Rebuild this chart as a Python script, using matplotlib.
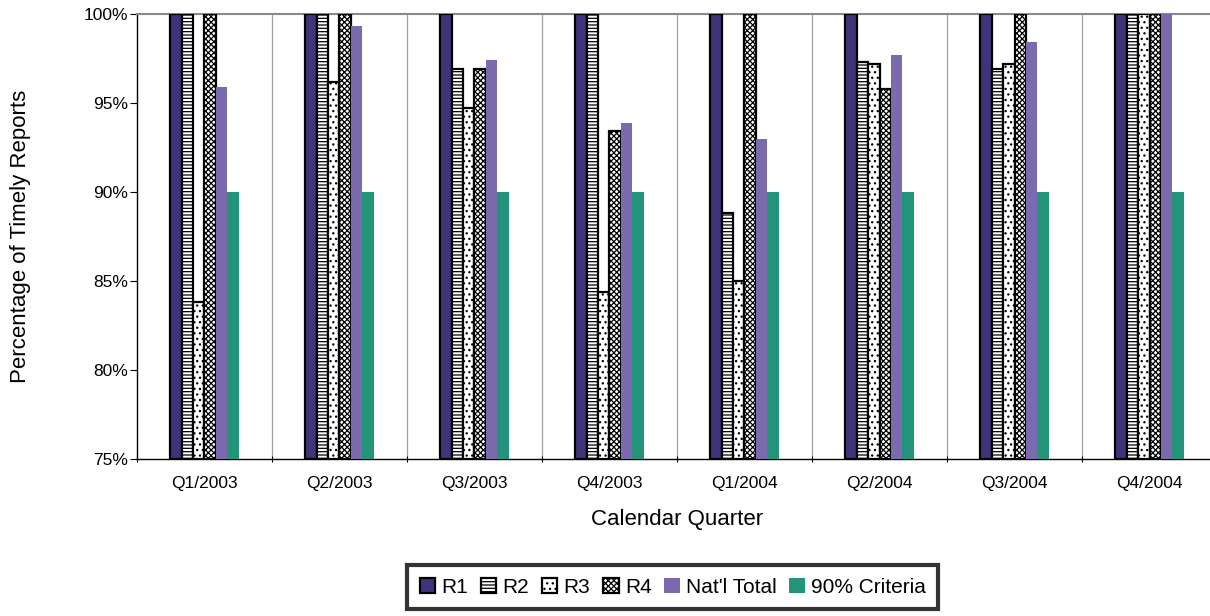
import numpy as np
import matplotlib
matplotlib.use("Agg")
from matplotlib import pyplot as plt

plt.rcParams["font.family"] = ["Liberation Sans", "DejaVu Sans"]
plt.rcParams["hatch.linewidth"] = 0.9

quarters = ["Q1/2003", "Q2/2003", "Q3/2003", "Q4/2003",
            "Q1/2004", "Q2/2004", "Q3/2004", "Q4/2004"]

r1 = [100, 100, 100, 100, 100, 100, 100, 100]
r2 = [100, 100, 96.9, 100, 88.8, 97.3, 96.9, 100]
r3 = [83.8, 96.2, 94.7, 84.4, 85.0, 97.2, 97.2, 100]
r4 = [100, 100, 96.9, 93.4, 100, 95.8, 100, 100]
natl = [95.9, 99.3, 97.4, 93.9, 93.0, 97.7, 98.4, 100]
criteria = [90, 90, 90, 90, 90, 90, 90, 90]

series = [
    ("R1", r1, "#3F3479", "black", None),
    ("R2", r2, "white", "black", "-----"),
    ("R3", r3, "white", "black", "..."),
    ("R4", r4, "white", "black", "xxxxxx"),
    ("Nat'l Total", natl, "#7B6BAE", "none", None),
    ("90% Criteria", criteria, "#23937A", "none", None),
]

fig = plt.figure(figsize=(12.1, 6.16), dpi=100)
ax = fig.add_axes([0.1132, 0.2549, 0.8926, 0.7224])

x = np.arange(len(quarters))
w = 0.085
for k, (name, vals, fc, ec, hatch) in enumerate(series):
    lw = 1.6 if ec == "black" else 0
    ax.bar(x + (k - 2.5) * w, np.array(vals) - 75, bottom=75, width=w,
           color=fc, edgecolor=ec, linewidth=lw, hatch=hatch, label=name,
           zorder=3)

for b in np.arange(len(quarters) - 1) + 0.5:
    ax.axvline(b, color="#A89E9E", lw=0.9, zorder=1)

ax.set_xlim(-0.5, len(quarters) - 0.5)
ax.set_ylim(75, 100)
ax.set_yticks(np.arange(75, 101, 5))
ax.set_yticklabels([f"{v}%" for v in range(75, 101, 5)], fontsize=12.5)
ax.set_xticks(x)
ax.set_xticklabels(quarters, fontsize=12.5)
ax.set_xticks(np.arange(len(quarters) + 1) - 0.5, minor=True)
ax.tick_params(axis="x", which="major", length=0, pad=12)
ax.tick_params(axis="x", which="minor", length=5, direction="inout", width=0.8)
ax.tick_params(axis="y", length=5, direction="out", width=0.8, pad=1.5)

ax.spines["top"].set_color("#8A8A8A")
ax.spines["top"].set_linewidth(1.5)
ax.spines["right"].set_visible(False)
ax.spines["left"].set_linewidth(1.0)
ax.spines["bottom"].set_linewidth(1.0)

ax.set_ylabel("Percentage of Timely Reports", fontsize=16, labelpad=38)
ax.set_xlabel("Calendar Quarter", fontsize=16, labelpad=13)

handles, labels = ax.get_legend_handles_labels()
leg = fig.legend(handles, labels, loc="center", bbox_to_anchor=(0.556, 0.047),
                 ncol=6, fontsize=15, frameon=True, fancybox=False,
                 handlelength=0.75, handleheight=0.75, handletextpad=0.3,
                 columnspacing=0.6, borderpad=0.6, borderaxespad=0)
leg.get_frame().set_edgecolor("black")
leg.get_frame().set_linewidth(3)

fig.savefig("out.png", dpi=100)
